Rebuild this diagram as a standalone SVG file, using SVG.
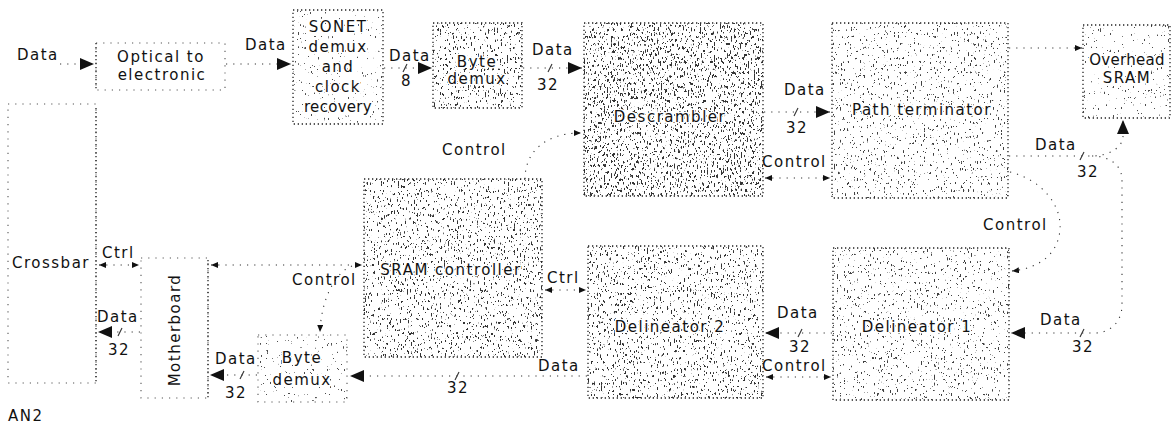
<svg xmlns="http://www.w3.org/2000/svg" width="1172" height="426" viewBox="0 0 1172 426">
  <style>
    .t { font-family: "DejaVu Sans", "Noto Sans", sans-serif; font-size: 15px; letter-spacing: 1.5px; fill: #111; }
    .m { text-anchor: middle; }
    .n { letter-spacing: 0.3px; }
    .h { paint-order: stroke; stroke: #fff; stroke-width: 3px; stroke-linejoin: round; }
    .edge { fill: none; stroke: #222; stroke-width: 1.3; stroke-dasharray: 1.3 2.7; }
    .edge-faint { fill: none; stroke: #555; stroke-width: 1.1; stroke-dasharray: 1.2 6; }
    .wire { fill: none; stroke: #333; stroke-width: 1.1; stroke-dasharray: 1.2 6; }
    .tick { stroke: #333; stroke-width: 1.1; }
    .data { marker-end: url(#headBig); }
    .ctl { marker-end: url(#headSmall); }
    .ctl2 { marker-start: url(#headSmall); marker-end: url(#headSmall); }
  </style>
  <defs>
    <marker id="headBig" viewBox="0 0 14 12" refX="14" refY="6" markerWidth="14" markerHeight="12" markerUnits="userSpaceOnUse" orient="auto-start-reverse">
      <path d="M0 0L14 6L0 12z" fill="#111"/>
    </marker>
    <marker id="headSmall" viewBox="0 0 7 6" refX="7" refY="3" markerWidth="7" markerHeight="6" markerUnits="userSpaceOnUse" orient="auto-start-reverse">
      <path d="M0 0L7 3L0 6z" fill="#111"/>
    </marker>
    <!-- halftone grain for the shaded blocks, four densities -->
    <filter id="grainHeavy" x="0" y="0" width="1" height="1" color-interpolation-filters="sRGB">
      <feTurbulence type="fractalNoise" baseFrequency="0.7 0.28" numOctaves="2" seed="11" result="noise"/>
      <feColorMatrix in="noise" type="matrix" values="0 0 0 0 0.2  0 0 0 0 0.2  0 0 0 0 0.2  -24 0 0 0 9.3" result="dots"/>
      <feComposite in="dots" in2="SourceAlpha" operator="in"/>
    </filter>
    <filter id="grainMid" x="0" y="0" width="1" height="1" color-interpolation-filters="sRGB">
      <feTurbulence type="fractalNoise" baseFrequency="0.7 0.28" numOctaves="2" seed="5" result="noise"/>
      <feColorMatrix in="noise" type="matrix" values="0 0 0 0 0.2  0 0 0 0 0.2  0 0 0 0 0.2  -24 0 0 0 8.5" result="dots"/>
      <feComposite in="dots" in2="SourceAlpha" operator="in"/>
    </filter>
    <filter id="grainLight" x="0" y="0" width="1" height="1" color-interpolation-filters="sRGB">
      <feTurbulence type="fractalNoise" baseFrequency="0.7 0.28" numOctaves="2" seed="23" result="noise"/>
      <feColorMatrix in="noise" type="matrix" values="0 0 0 0 0.25  0 0 0 0 0.25  0 0 0 0 0.25  -24 0 0 0 7.6" result="dots"/>
      <feComposite in="dots" in2="SourceAlpha" operator="in"/>
    </filter>
    <filter id="grainFaint" x="0" y="0" width="1" height="1" color-interpolation-filters="sRGB">
      <feTurbulence type="fractalNoise" baseFrequency="0.7 0.28" numOctaves="2" seed="31" result="noise"/>
      <feColorMatrix in="noise" type="matrix" values="0 0 0 0 0.3  0 0 0 0 0.3  0 0 0 0 0.3  -24 0 0 0 7.0" result="dots"/>
      <feComposite in="dots" in2="SourceAlpha" operator="in"/>
    </filter>
  </defs>

  <rect width="1172" height="426" fill="#fff"/>

  <!-- blocks -->
  <g id="optical">
    <rect class="edge-faint" x="96" y="43" width="129" height="47"/>
    <line class="edge" x1="96" y1="43" x2="96" y2="90"/>
    <text class="t m" x="161" y="62">Optical to</text>
    <text class="t m" x="162" y="80">electronic</text>
  </g>

  <g id="crossbar">
    <rect class="edge-faint" x="8" y="104" width="88" height="279"/>
    <line class="edge" x1="96" y1="108" x2="96" y2="383"/>
    <text class="t m" x="51" y="268">Crossbar</text>
  </g>

  <g id="motherboard">
    <rect class="edge-faint" x="141" y="258" width="67" height="140"/>
    <line class="edge" x1="208" y1="260" x2="208" y2="398"/>
    <text class="t m" x="175" y="330" dominant-baseline="central" transform="rotate(-90 175 330)">Motherboard</text>
  </g>

  <g id="sonet">
    <rect x="293" y="10" width="90" height="114" filter="url(#grainFaint)"/>
    <rect class="edge" x="293" y="10" width="90" height="114"/>
    <text class="t m h" x="338" y="32">SONET</text>
    <text class="t m h" x="338" y="52">demux</text>
    <text class="t m h" x="338" y="72">and</text>
    <text class="t m h" x="338" y="92">clock</text>
    <text class="t m h n" x="338" y="112">recovery</text>
  </g>

  <g id="byte-demux-in">
    <rect x="433" y="23" width="89" height="85" filter="url(#grainMid)"/>
    <rect class="edge" x="433" y="23" width="89" height="85"/>
    <text class="t m h" x="477" y="67">Byte</text>
    <text class="t m h" x="477" y="84">demux</text>
  </g>

  <g id="descrambler">
    <rect x="584" y="23" width="179" height="173" filter="url(#grainHeavy)"/>
    <rect class="edge" x="584" y="23" width="179" height="173"/>
    <text class="t m h" x="670" y="122">Descrambler</text>
  </g>

  <g id="path-terminator">
    <rect x="832" y="23" width="176" height="175" filter="url(#grainLight)"/>
    <rect class="edge" x="832" y="23" width="176" height="175"/>
    <text class="t m h" x="922" y="115">Path terminator</text>
  </g>

  <g id="overhead-sram">
    <rect x="1083" y="25" width="87" height="93" filter="url(#grainFaint)"/>
    <rect class="edge" x="1083" y="25" width="87" height="93"/>
    <text class="t m h n" x="1127" y="65">Overhead</text>
    <text class="t m h" x="1127" y="83">SRAM</text>
  </g>

  <g id="sram-controller">
    <rect x="364" y="179" width="178" height="178" filter="url(#grainMid)"/>
    <rect class="edge" x="364" y="179" width="178" height="178"/>
    <text class="t m h" x="451" y="275">SRAM controller</text>
  </g>

  <g id="delineator-2">
    <rect x="588" y="246" width="175" height="152" filter="url(#grainMid)"/>
    <rect class="edge" x="588" y="246" width="175" height="152"/>
    <text class="t m h" x="670" y="332">Delineator 2</text>
  </g>

  <g id="delineator-1">
    <rect x="833" y="248" width="176" height="152" filter="url(#grainLight)"/>
    <rect class="edge" x="833" y="248" width="176" height="152"/>
    <text class="t m h" x="917" y="332">Delineator 1</text>
  </g>

  <g id="byte-demux-out">
    <rect x="258" y="335" width="89" height="67" filter="url(#grainFaint)"/>
    <rect class="edge-faint" x="258" y="335" width="89" height="67"/>
    <text class="t m h" x="302" y="363">Byte</text>
    <text class="t m h" x="302" y="385">demux</text>
  </g>

  <!-- connectors -->
  <g id="connectors">
    <!-- receive path -->
    <path class="wire data" d="M60 64H94"/>
    <text class="t" x="17" y="60">Data</text>

    <path class="wire data" d="M226 64H291"/>
    <text class="t" x="245" y="50">Data</text>

    <path class="wire data" d="M384 68H432"/>
    <line class="tick" x1="403" y1="72" x2="407" y2="64"/>
    <text class="t" x="389" y="61">Data</text>
    <text class="t" x="401" y="86">8</text>

    <path class="wire data" d="M523 68H582"/>
    <line class="tick" x1="548" y1="72" x2="552" y2="64"/>
    <text class="t" x="532" y="55">Data</text>
    <text class="t" x="537" y="90">32</text>

    <path class="wire data" d="M764 112H830"/>
    <line class="tick" x1="794" y1="116" x2="798" y2="108"/>
    <text class="t" x="784" y="95">Data</text>
    <text class="t" x="786" y="133">32</text>

    <path class="wire ctl2" d="M765 178H830"/>
    <text class="t" x="762" y="167">Control</text>

    <path class="wire ctl" d="M525 179C525 152 545 133 581 133"/>
    <text class="t" x="442" y="155">Control</text>

    <!-- path terminator outputs -->
    <path class="wire ctl" d="M1009 48H1082"/>

    <path class="wire data" d="M1009 156H1092C1108 156 1123 148 1123 136V120"/>
    <line class="tick" x1="1080" y1="160" x2="1084" y2="152"/>
    <text class="t" x="1035" y="150">Data</text>
    <text class="t" x="1077" y="177">32</text>

    <path class="wire data" d="M1092 156C1108 156 1122 164 1122 180V305C1122 322 1110 333 1095 333H1011"/>
    <line class="tick" x1="1080" y1="337" x2="1084" y2="329"/>
    <text class="t" x="1040" y="325">Data</text>
    <text class="t" x="1072" y="352">32</text>

    <path class="wire ctl" d="M1010 172C1042 180 1062 205 1060 230C1058 252 1042 268 1012 271"/>
    <text class="t" x="983" y="230">Control</text>

    <!-- delineators -->
    <path class="wire data" d="M832 333H765"/>
    <line class="tick" x1="798" y1="337" x2="802" y2="329"/>
    <text class="t" x="777" y="318">Data</text>
    <text class="t" x="789" y="352">32</text>

    <path class="wire ctl2" d="M766 377H831"/>
    <text class="t" x="762" y="371">Control</text>

    <path class="wire ctl2" d="M545 290H586"/>
    <text class="t" x="547" y="283">Ctrl</text>

    <path class="wire data" d="M587 376H350"/>
    <line class="tick" x1="455" y1="380" x2="459" y2="372"/>
    <text class="t" x="538" y="371">Data</text>
    <text class="t" x="447" y="393">32</text>

    <!-- transmit to the switch -->
    <path class="wire ctl2" d="M211 265H362"/>
    <path class="wire ctl" d="M352 266C335 272 321 300 320 332"/>
    <text class="t" x="292" y="285">Control</text>

    <path class="wire data" d="M257 375H210"/>
    <line class="tick" x1="240" y1="379" x2="244" y2="371"/>
    <text class="t" x="215" y="364">Data</text>
    <text class="t" x="225" y="398">32</text>

    <path class="wire ctl2" d="M99 265H139"/>
    <text class="t" x="102" y="258">Ctrl</text>

    <path class="wire data" d="M140 332H98"/>
    <line class="tick" x1="118" y1="336" x2="122" y2="328"/>
    <text class="t" x="97" y="322">Data</text>
    <text class="t" x="108" y="355">32</text>
  </g>

  <text class="t" x="8" y="421">AN2</text>
</svg>
